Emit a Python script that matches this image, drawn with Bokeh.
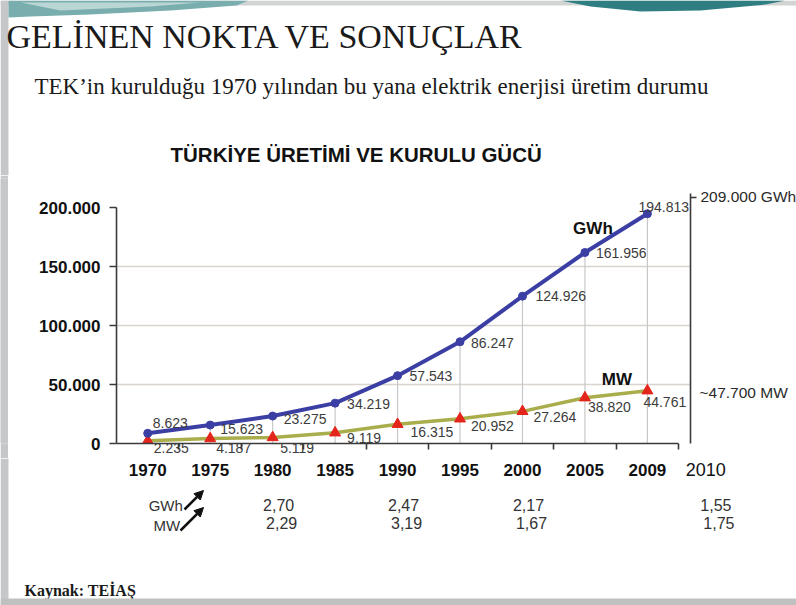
from bokeh.plotting import figure
from bokeh.models import (Range1d, LinearAxis, FixedTicker, ColumnDataSource, LabelSet,
                          Label, Arrow, NormalHead, Grid)
from bokeh.layouts import column, row
from bokeh.core.properties import value
from bokeh.embed import file_html
from bokeh.resources import INLINE

# ---------------- data ----------------
years = ["1970", "1975", "1980", "1985", "1990", "1995", "2000", "2005", "2009"]
gwh = [8623, 15623, 23275, 34219, 57543, 86247, 124926, 161956, 194813]
mw = [2235, 4187, 5119, 9119, 16315, 20952, 27264, 38820, 44761]
y_ticks = [0, 50000, 100000, 150000, 200000]
row_years = years + ["2010"]
growth_years = ["1980", "1990", "2000", "2010"]
gwh_growth = [2.70, 2.47, 2.17, 1.55]
mw_growth = [2.29, 3.19, 1.67, 1.75]
right_values = [209000, 47700]
right_prefix = ["", "~"]
right_units = ["GWh", "MW"]

title = "GELİNEN NOKTA VE SONUÇLAR"
subtitle = "TEK\u2019in kurulduğu 1970 yılından bu yana elektrik enerjisi üretim durumu"
chart_title = "TÜRKİYE ÜRETİMİ VE KURULU GÜCÜ"
source_note = "Kaynak: TEİAŞ"


def tr(v):
    return f"{v:,}".replace(",", ".")


def dec(v):
    return f"{v:.2f}".replace(".", ",")


# ---------------- styles / layout ----------------
BLUE = "#3b3fa3"
OLIVE = "#aaad4c"
RED = "#e4251b"
AXIS = "#3a3a3a"
TXT = "#3c3c3c"
EDGE = "#c5c7c8"
SANS = "Liberation Sans"
SERIF = "Liberation Serif"

W = 796
EDGE_W = 8
HEAD_H = 175
TOP_B = 3
FRAME_H = 265
BOT_B = 15
CH_H = TOP_B + FRAME_H + BOT_B
FOOT_H = 605 - HEAD_H - CH_H
LEFT = 116
FRAME_W = 574
RIGHT_B = 8
CH_W = LEFT - EDGE_W + FRAME_W + RIGHT_B
SIDE_W = W - EDGE_W - CH_W
PY = 212000 / 250          # data units per pixel
Y_AXIS_TOP = 212000        # top of the right bracket
Y_TOP = FRAME_H * PY
FOOT_TOP = HEAD_H + CH_H

n = len(years)
xi = list(range(n))
x_end = n - 0.5 + 0.19
u = FRAME_W / (x_end + 0.5)      # pixels per category

# label offsets (pixels, right / up)
g_dx = [5, 10, 11, 12, 12, 11, 13, 11, -9]
g_dy = [10, -4, -3, -1, 0, -1, 0, 0, 7]
m_dx = [6, 6, 7, 12, 13, 11, 11, 3, -4]
m_dy = [-8, -10, -6, -5, -8, -7, -6, -9, -11]
n_below = 3          # MW labels that sit under the axis line
half_w = 17.5


def blank(w, h, xr, yr, **kw):
    f = figure(width=w, height=h, x_range=xr, y_range=yr,
               x_axis_type=None, y_axis_type=None,
               output_backend="svg", toolbar_location=None, **kw)
    f.outline_line_color = None
    f.background_fill_color = "white"
    f.border_fill_color = "white"
    return f


# ---------------- header ----------------
head = blank(W, HEAD_H, Range1d(0, W), Range1d(HEAD_H, 0), min_border=0)
head.quad(left=0, right=W, top=0, bottom=5, fill_color="#d2d4d4", line_color=None)
head.quad(left=0, right=EDGE_W, top=0, bottom=HEAD_H, fill_color=EDGE, line_color=None)
head.patch([8, 248, 236, 170, 90, 30, 8], [0, 0, 5, 10, 14, 16, 17],
           fill_color="#7aaeae", line_color=None)
head.patch([20, 200, 150, 60], [2, 2, 6, 10], fill_color="#b9d6d4", line_color=None)
head.patch([560, 785, 765, 700, 640, 590], [0, 0, 4, 10, 11, 6],
           fill_color="#2f7f82", line_color=None)
head.text(x=[6], y=[36], text=[title], text_font=value(SERIF), text_font_size="34px",
          text_color="#1a1a1a", text_baseline="middle")
head.text(x=[34], y=[86], text=[subtitle], text_font=value(SERIF), text_font_size="23px",
          text_color="#1a1a1a", text_baseline="middle")
head.text(x=[170], y=[154], text=[chart_title], text_font=value(SANS),
          text_font_style="bold", text_font_size="20.5px", text_color="#111111",
          text_baseline="middle")

# ---------------- left slide edge ----------------
edge = blank(EDGE_W, CH_H, Range1d(0, 1), Range1d(0, 1), min_border=0)
edge.background_fill_color = EDGE
edge.border_fill_color = EDGE

# ---------------- chart ----------------
p = figure(width=CH_W, height=CH_H,
           x_range=Range1d(-0.5, x_end), y_range=Range1d(0, Y_TOP),
           x_axis_type=None, y_axis_type=None,
           output_backend="svg", toolbar_location=None,
           min_border_left=LEFT - EDGE_W, min_border_right=RIGHT_B,
           min_border_top=TOP_B, min_border_bottom=BOT_B)
p.outline_line_color = None
p.background_fill_color = "white"
p.border_fill_color = "white"

below_ticks = [round(i + (m_dx[i] + half_w) / u, 4) for i in range(n_below)]
xaxis = LinearAxis(
    ticker=FixedTicker(ticks=below_ticks, minor_ticks=[i + 0.5 for i in xi]),
    major_label_overrides={t: tr(mw[i]) for i, t in enumerate(below_ticks)},
    bounds=(-0.5, n - 0.5),
    major_tick_out=0, major_tick_in=0, minor_tick_out=6, minor_tick_in=0,
    axis_line_color=AXIS, axis_line_width=1.6,
    minor_tick_line_color=AXIS, minor_tick_line_width=1.6,
    major_label_text_font=SANS, major_label_text_font_size="14px",
    major_label_text_color=TXT, major_label_standoff=-7)
p.add_layout(xaxis, "below")

yaxis = LinearAxis(
    ticker=FixedTicker(ticks=y_ticks),
    major_label_overrides={v: tr(v) for v in y_ticks},
    bounds=(0, 200000),
    major_tick_out=7, major_tick_in=0, minor_tick_out=0, minor_tick_in=0,
    axis_line_color=AXIS, axis_line_width=1.6,
    major_tick_line_color=AXIS, major_tick_line_width=1.6,
    major_label_text_font=SANS, major_label_text_font_style="bold",
    major_label_text_font_size="17px", major_label_text_color="#111111",
    major_label_standoff=9)
p.add_layout(yaxis, "left")

raxis = LinearAxis(
    ticker=FixedTicker(ticks=[], minor_ticks=[right_values[0]]),
    bounds=(0, Y_AXIS_TOP),
    major_tick_out=0, major_tick_in=0, minor_tick_out=6, minor_tick_in=0,
    axis_line_color=AXIS, axis_line_width=1.6,
    minor_tick_line_color=AXIS, minor_tick_line_width=1.6,
    major_label_standoff=0)
p.add_layout(raxis, "right")

p.add_layout(Grid(dimension=1, ticker=FixedTicker(ticks=y_ticks[1:-1]),
                  grid_line_color="#d9d4ce", grid_line_width=1.6))

src = ColumnDataSource(dict(
    x=xi, gwh=gwh, mw=mw, zero=[0] * n,
    gl=[tr(v) for v in gwh], gdx=g_dx, gdy=g_dy))
msrc = ColumnDataSource(dict(
    x=xi[n_below:], mw=mw[n_below:], ml=[tr(v) for v in mw[n_below:]],
    mdx=m_dx[n_below:], mdy=m_dy[n_below:]))

p.segment(x0="x", y0="zero", x1="x", y1="gwh", source=src,
          line_color="#c8c8c8", line_width=1.2)
p.line("x", "mw", source=src, line_color=OLIVE, line_width=3.5)
p.scatter("x", "mw", source=src, marker="triangle", size=11,
          fill_color=RED, line_color=RED)
p.line("x", "gwh", source=src, line_color=BLUE, line_width=4)
p.scatter("x", "gwh", source=src, marker="circle", size=8,
          fill_color=BLUE, line_color=BLUE)

lab_style = dict(text_font=value(SANS), text_font_size="14px", text_color=TXT,
                 text_baseline="middle", text_align="left")
p.add_layout(LabelSet(x="x", y="gwh", text="gl", x_offset="gdx", y_offset="gdy",
                      source=src, **lab_style))
p.add_layout(LabelSet(x="x", y="mw", text="ml", x_offset="mdx", y_offset="mdy",
                      source=msrc, **lab_style))

p.add_layout(Label(x=7, y=gwh[7], x_offset=8, y_offset=24, text="GWh",
                   text_font=SANS, text_font_style="bold", text_font_size="17px",
                   text_color="#111111", text_align="center", text_baseline="middle"))
p.add_layout(Label(x=7, y=mw[7], x_offset=32, y_offset=18, text="MW",
                   text_font=SANS, text_font_style="bold", text_font_size="17px",
                   text_color="#111111", text_align="center", text_baseline="middle"))

# ---------------- right side ----------------
side = blank(SIDE_W, CH_H,
             Range1d(x_end + RIGHT_B / u, x_end + (RIGHT_B + SIDE_W) / u),
             Range1d(0, Y_TOP),
             min_border_left=0, min_border_right=0,
             min_border_top=TOP_B, min_border_bottom=BOT_B)
r_off = [(10, 1), (9, -5)]
for v, pre, unit, (dx, dy) in zip(right_values, right_prefix, right_units, r_off):
    side.add_layout(Label(x=x_end, y=v, x_offset=dx, y_offset=dy,
                          text=f"{pre}{tr(v)} {unit}",
                          text_font=SANS, text_font_size="15.5px", text_color="#2a2a2a",
                          text_align="left", text_baseline="middle"))

# ---------------- footer (year row, growth rows, source) ----------------
foot = blank(W, FOOT_H,
             Range1d(-0.5 - LEFT / u, x_end + (W - LEFT - FRAME_W) / u),
             Range1d(605, FOOT_TOP), min_border=0)
foot.extra_x_ranges = {"px": Range1d(0, W)}
foot.quad(left=0, right=EDGE_W, top=FOOT_TOP, bottom=605, x_range_name="px",
          fill_color=EDGE, line_color=None)

ysrc = ColumnDataSource(dict(x=xi, t=years))
foot.text(x="x", y=469, text="t", source=ysrc, text_font=value(SANS),
          text_font_style="bold", text_font_size="17px", text_color="#111111",
          text_align="center", text_baseline="middle")
foot.text(x=[row_years.index("2010")], y=[469], text=["2010"], x_offset=-4,
          text_font=value(SANS), text_font_size="18px", text_color="#111111",
          text_align="center", text_baseline="middle")

gsrc = ColumnDataSource(dict(
    x=[row_years.index(y) for y in growth_years],
    g=[dec(v) for v in gwh_growth], m=[dec(v) for v in mw_growth]))
row_style = dict(text_font=value(SANS), text_font_size="16px", text_color="#333333",
                 text_align="center", text_baseline="middle")
foot.text(x="x", y=504, text="g", x_offset=6, source=gsrc, **row_style)
foot.text(x="x", y=522, text="m", x_offset=9, source=gsrc, **row_style)
foot.text(x=[0, 0], y=[505, 525], text=["GWh", "MW"], x_offset=[18, 19],
          text_font=value(SANS), text_font_size="15px", text_color="#333333",
          text_align="center", text_baseline="middle")
for (x0, y0, x1, y1) in [(184, 509, 203, 490), (180, 530, 203, 507)]:
    foot.add_layout(Arrow(x_start=x0, y_start=y0, x_end=x1, y_end=y1,
                          x_range_name="px",
                          line_color="#111111", line_width=2.5,
                          end=NormalHead(size=9, fill_color="#111111",
                                         line_color="#111111")))
foot.text(x=[24], y=[590], text=[source_note], x_range_name="px",
          text_font=value(SERIF), text_font_style="bold", text_font_size="16px",
          text_color="#1a1a1a", text_baseline="middle")
foot.quad(left=0, right=W, top=598, bottom=605, x_range_name="px",
          fill_color="#bfc1c1", line_color=None)

layout = column(head, row(edge, p, side), foot)
open("out.html", "w").write(file_html(layout, INLINE))
